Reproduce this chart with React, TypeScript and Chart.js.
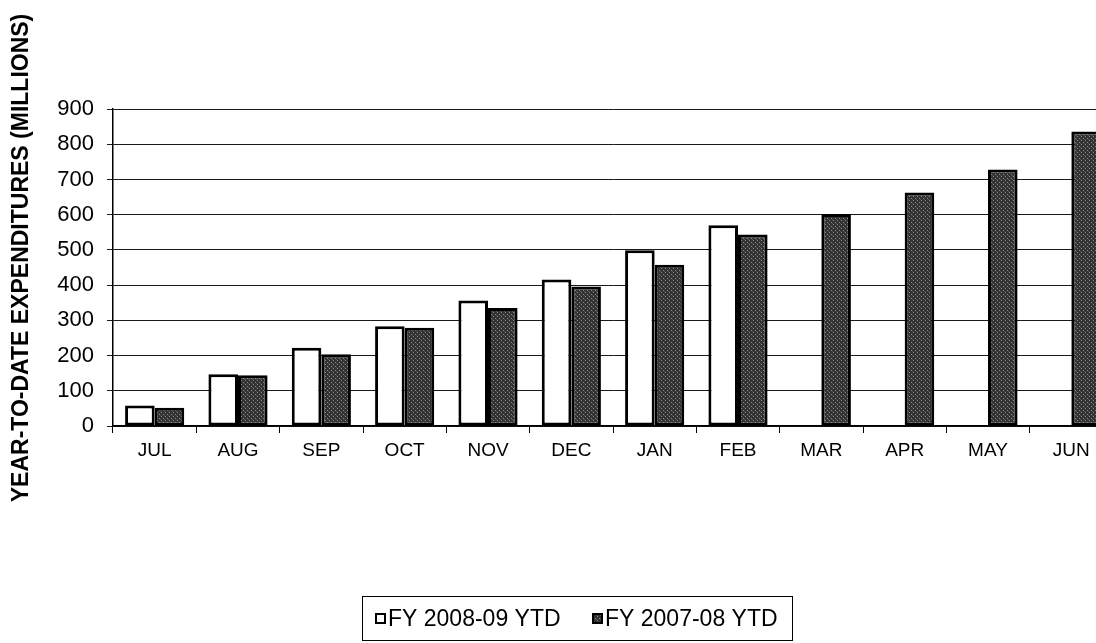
import React, { useEffect, useRef } from "react";
import { Chart, registerables } from "chart.js";

Chart.register(...registerables);

const categories = ["JUL", "AUG", "SEP", "OCT", "NOV", "DEC", "JAN", "FEB", "MAR", "APR", "MAY", "JUN"];
const fy0809Label = "FY 2008-09 YTD";
const fy0708Label = "FY 2007-08 YTD";
const fy0809 = [58, 147, 222, 283, 356, 416, 499, 570, null, null, null, null];
const fy0708 = [52, 144, 204, 279, 335, 396, 458, 544, 602, 663, 728, 836];
const yTicks = [0, 100, 200, 300, 400, 500, 600, 700, 800, 900];
const yTitle = "YEAR-TO-DATE EXPENDITURES (MILLIONS)";

const FONT = "'Liberation Sans', Arial, sans-serif";

function makePattern(ctx: CanvasRenderingContext2D): CanvasPattern | string {
  const c = document.createElement("canvas");
  c.width = 4;
  c.height = 4;
  const p = c.getContext("2d");
  if (!p) return "#404040";
  p.fillStyle = "#323232";
  p.fillRect(0, 0, 4, 4);
  p.fillStyle = "#8a8a8a";
  p.fillRect(1, 0, 1, 1);
  p.fillRect(3, 2, 1, 1);
  p.fillStyle = "#555555";
  p.fillRect(0, 3, 1, 1);
  return ctx.createPattern(c, "repeat") || "#404040";
}

export default function App() {
  const ref = useRef<HTMLCanvasElement | null>(null);

  useEffect(() => {
    const canvas = ref.current;
    if (!canvas) return;
    const ctx = canvas.getContext("2d");
    if (!ctx) return;
    const dark = makePattern(ctx);

    const titlePlugin = {
      id: "yTitlePlugin",
      afterDraw(chart: any) {
        const c = chart.ctx;
        c.save();
        c.translate(22, 258);
        c.rotate(-Math.PI / 2);
        c.font = `bold 23px ${FONT}`;
        c.fillStyle = "#000";
        c.textAlign = "center";
        c.textBaseline = "middle";
        c.fillText(yTitle, 0, 0);
        c.restore();
      },
    };

    const legendPlugin = {
      id: "boxLegend",
      afterDraw(chart: any) {
        const c = chart.ctx;
        const ds = chart.data.datasets;
        c.save();
        c.strokeStyle = "#000";
        c.lineWidth = 1;
        c.strokeRect(362.5, 596.5, 430, 44);
        c.font = `23px ${FONT}`;
        c.textBaseline = "middle";
        c.fillStyle = "#000";
        const items = [
          { x: 375, fill: "#ffffff", label: ds[0].label },
          { x: 592, fill: dark, label: ds[1].label },
        ];
        items.forEach((it) => {
          c.fillStyle = it.fill;
          c.fillRect(it.x, 613, 11, 11);
          c.strokeStyle = "#000";
          c.lineWidth = 2;
          c.strokeRect(it.x + 1, 614, 9, 9);
          c.fillStyle = "#000";
          c.fillText(it.label, it.x + 13, 620);
        });
        c.restore();
      },
    };

    const chart = new Chart(ctx, {
      type: "bar",
      data: {
        labels: categories,
        datasets: [
          {
            label: fy0809Label,
            data: fy0809 as any,
            backgroundColor: "#ffffff",
            borderColor: "#000000",
            borderWidth: 3,
            borderSkipped: false,
            categoryPercentage: 0.71,
            barPercentage: 1.0,
          },
          {
            label: fy0708Label,
            data: fy0708,
            backgroundColor: dark as any,
            borderColor: "#000000",
            borderWidth: 3,
            borderSkipped: false,
            categoryPercentage: 0.71,
            barPercentage: 1.0,
          },
        ],
      },
      options: {
        animation: false,
        responsive: false,
        devicePixelRatio: 1,
        layout: { padding: { left: 0, top: 109, right: 3, bottom: 0 } },
        plugins: {
          legend: { display: false },
          tooltip: { enabled: false },
          title: { display: false },
        },
        scales: {
          x: {
            type: "category",
            afterFit: (s: any) => {
              s.height = 643 - 426;
            },
            grid: {
              offset: true,
              drawOnChartArea: false,
              drawTicks: true,
              tickLength: 7,
              color: "#000",
              lineWidth: 1,
            },
            border: { display: true, color: "#000", width: 1.5 },
            ticks: {
              color: "#000",
              padding: 6,
              font: { family: FONT, size: 19 },
              maxRotation: 0,
              autoSkip: false,
            },
          },
          y: {
            min: 0,
            max: 900,
            afterFit: (s: any) => {
              s.width = 113;
            },
            afterBuildTicks: (s: any) => {
              s.ticks = yTicks.map((v) => ({ value: v }));
            },
            grid: {
              color: "#1a1a1a",
              lineWidth: 1,
              drawTicks: true,
              tickLength: 6,
            },
            border: { display: true, color: "#000", width: 1.5 },
            ticks: {
              color: "#000",
              padding: 13,
              font: { family: FONT, size: 22 },
            },
          },
        },
      },
      plugins: [titlePlugin, legendPlugin],
    });

    return () => {
      chart.destroy();
    };
  }, []);

  return (
    <div
      style={{
        position: "fixed",
        left: 0,
        top: 0,
        width: 1096,
        height: 643,
        overflow: "hidden",
        background: "#fff",
      }}
    >
      <canvas ref={ref} width={1116} height={643} style={{ display: "block", width: 1116, height: 643 }} />
    </div>
  );
}
